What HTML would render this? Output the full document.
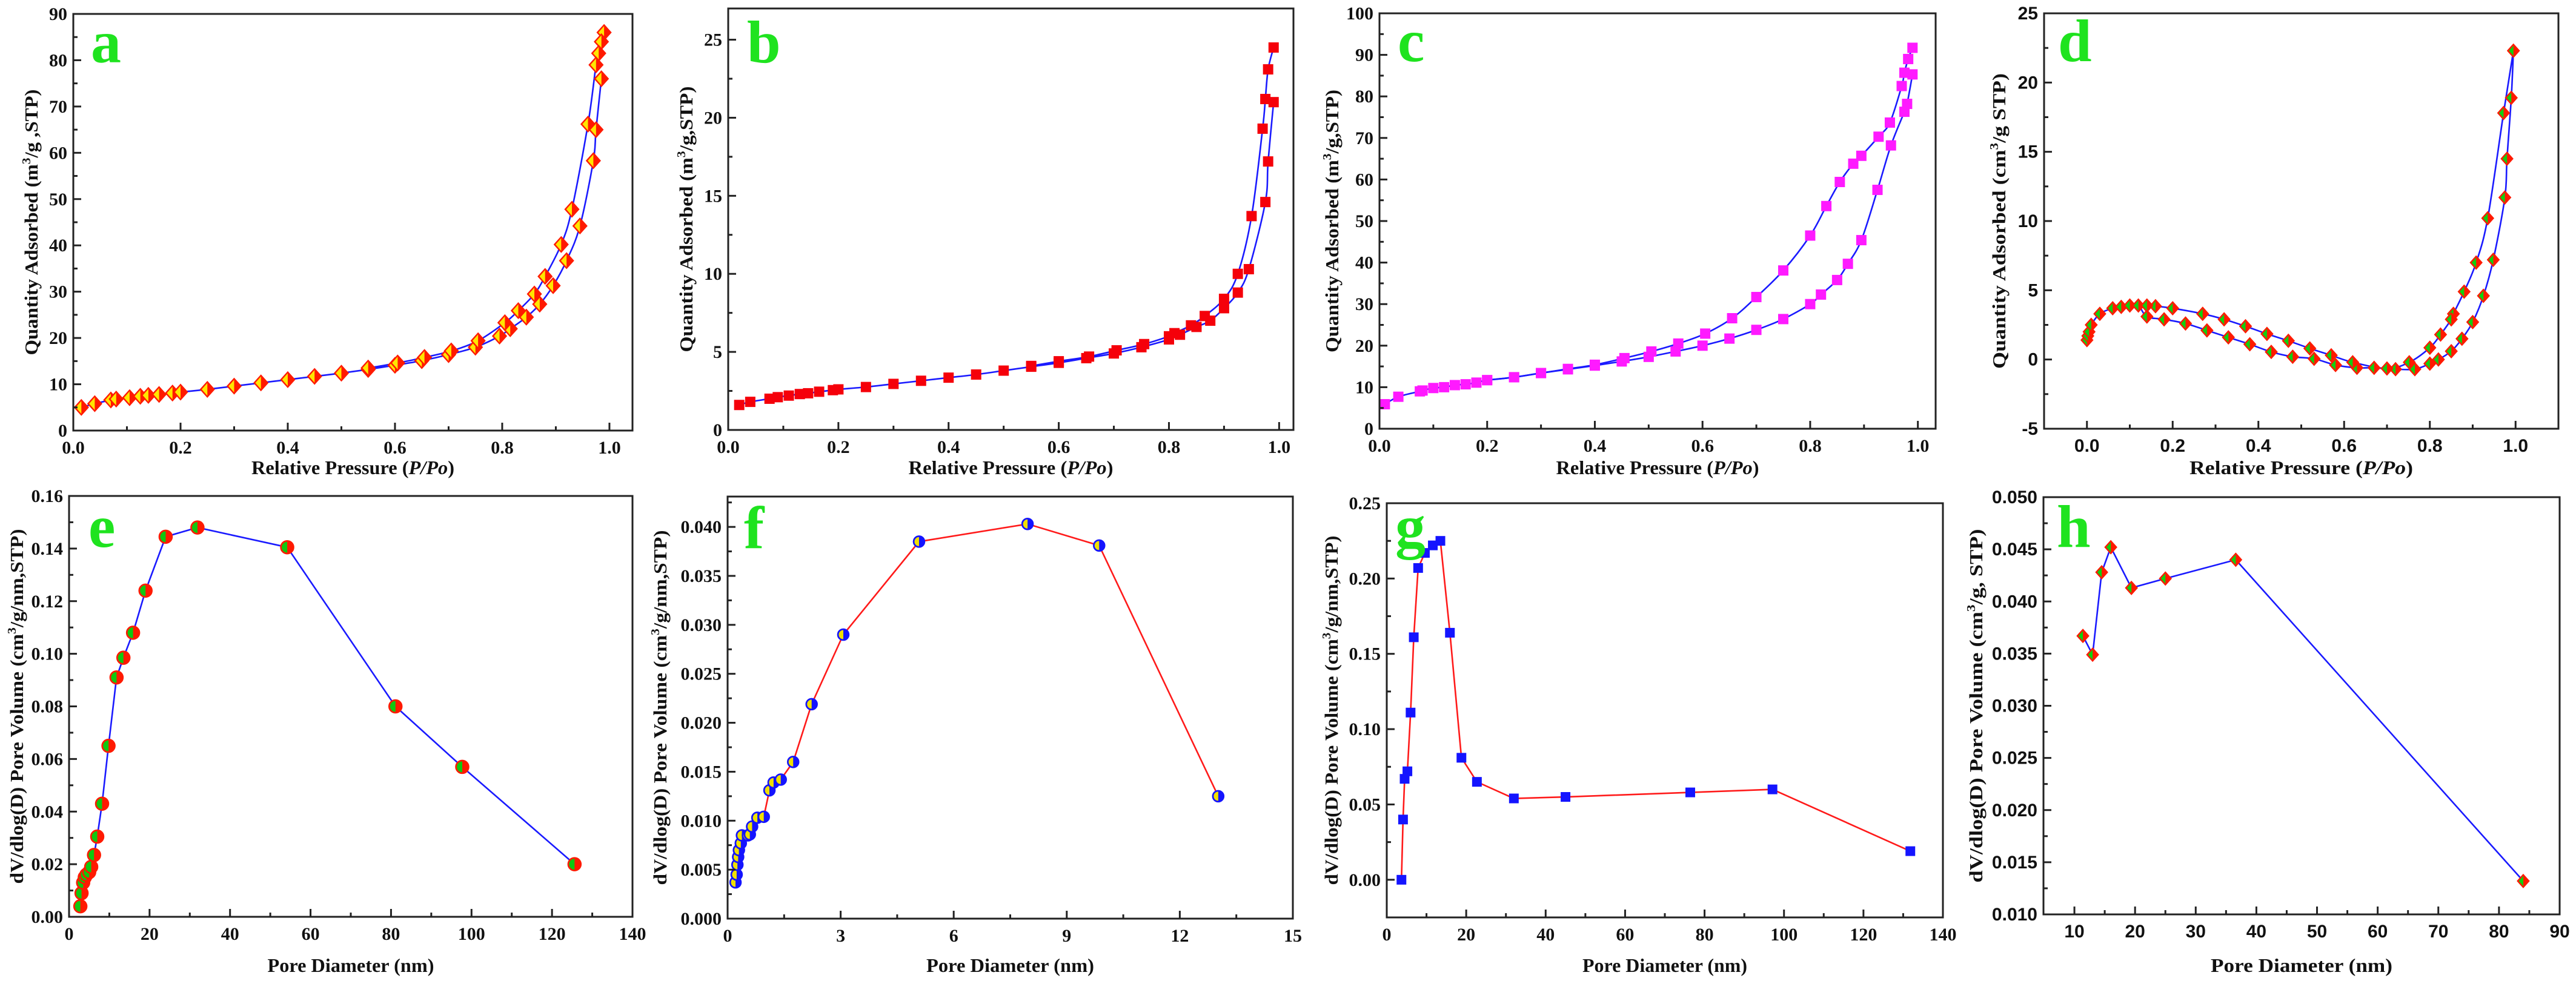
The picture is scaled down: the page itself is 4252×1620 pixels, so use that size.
<!DOCTYPE html>
<html><head><meta charset="utf-8">
<style>
html,body{margin:0;padding:0;background:#fff;}
svg{display:block;}
text{font-family:"Liberation Serif",serif;font-weight:bold;fill:#111;}
.sans{font-family:"Liberation Sans",sans-serif;}
</style></head>
<body>
<svg id="fig" width="4252" height="1620" viewBox="0 0 4252 1620" xmlns="http://www.w3.org/2000/svg"></svg>
<script>
// ---- panel a ----
const aAdsX=[0.015,0.04,0.07,0.08,0.105,0.125,0.14,0.16,0.185,0.2,0.25,0.3,0.35,0.4,0.45,0.5,0.55,0.6,0.65,0.7,0.75,0.795,0.815,0.845,0.87,0.895,0.92,0.945,0.97,0.975,0.985];
const aAdsY=[5,5.8,6.6,6.8,7.1,7.4,7.6,7.8,8.1,8.3,8.9,9.6,10.3,11,11.7,12.4,13.2,14.1,15.1,16.4,18,20.4,22,24.5,27.3,31.3,36.7,44.2,58.3,65,76];
const aDesX=[0.99,0.985,0.98,0.975,0.96,0.93,0.91,0.88,0.86,0.83,0.805,0.755,0.705,0.655,0.605,0.55];
const aDesY=[86,84,81.5,79,66.2,47.8,40.2,33.3,29.5,25.9,23.3,19.4,17.2,15.8,14.6,13.5];
// ---- panel b ----
const bAdsX=[0.02,0.04,0.075,0.09,0.11,0.13,0.145,0.165,0.19,0.2,0.25,0.3,0.35,0.4,0.45,0.5,0.55,0.6,0.65,0.7,0.75,0.8,0.82,0.85,0.875,0.9,0.925,0.945,0.975,0.98,0.99];
const bAdsY=[1.6,1.8,2.0,2.1,2.2,2.3,2.35,2.45,2.55,2.6,2.75,2.95,3.15,3.35,3.55,3.8,4.05,4.3,4.6,4.9,5.3,5.8,6.1,6.6,7.0,7.8,8.8,10.3,14.6,17.2,21.0];
const bDesX=[0.99,0.98,0.975,0.97,0.95,0.925,0.9,0.865,0.84,0.81,0.8,0.755,0.705,0.655,0.6,0.55];
const bDesY=[24.5,23.1,21.2,19.3,13.7,10,8.4,7.3,6.7,6.2,6.0,5.5,5.1,4.7,4.4,4.1];
// ---- panel c ----
const cAdsX=[0.01,0.035,0.075,0.08,0.1,0.12,0.14,0.16,0.18,0.2,0.25,0.3,0.35,0.4,0.45,0.5,0.55,0.6,0.65,0.7,0.75,0.8,0.82,0.85,0.87,0.895,0.925,0.95,0.975,0.98,0.99];
const cAdsY=[5.9,7.7,9.0,9.2,9.8,10,10.5,10.7,11.1,11.7,12.4,13.4,14.3,15.2,16.2,17.3,18.6,20,21.7,23.8,26.4,30,32.3,35.8,39.7,45.4,57.5,68.2,76.3,78.2,85.3];
const cDesX=[0.99,0.982,0.975,0.97,0.948,0.927,0.895,0.88,0.855,0.83,0.8,0.75,0.7,0.655,0.605,0.555,0.505,0.455,0.4,0.35,0.3,0.25,0.2];
const cDesY=[91.7,89,85.7,82.5,73.7,70.3,65.7,63.8,59.4,53.6,46.5,38.1,31.7,26.6,22.9,20.5,18.6,17,15.4,14.4,13.4,12.4,11.7];
// ---- panel d ----
const dAdsX=[0,0.002,0.005,0.01,0.03,0.06,0.08,0.1,0.12,0.14,0.18,0.23,0.28,0.33,0.38,0.43,0.48,0.53,0.58,0.63,0.67,0.72,0.765,0.8,0.82,0.85,0.875,0.9,0.925,0.948,0.975,0.98,0.99,0.995];
const dAdsY=[1.4,1.7,2.0,2.5,3.3,3.7,3.8,3.9,3.9,3.1,2.9,2.6,2.1,1.6,1.1,0.55,0.2,0.05,-0.4,-0.6,-0.6,-0.7,-0.7,-0.3,0.0,0.6,1.5,2.7,4.6,7.2,11.7,14.5,18.9,22.3];
const dDesX=[0.995,0.972,0.935,0.908,0.88,0.855,0.85,0.825,0.8,0.752,0.70,0.62,0.57,0.52,0.47,0.42,0.37,0.32,0.27,0.2,0.16,0.14];
const dDesY=[22.3,17.8,10.2,7.0,4.9,3.3,2.9,1.8,0.85,-0.2,-0.65,-0.2,0.3,0.8,1.35,1.85,2.4,2.9,3.3,3.7,3.85,3.9];
// ---- panel e ----
const eX=[2.8,3.1,3.5,3.9,4.3,5,5.5,6.2,7,8.2,9.8,11.8,13.5,15.9,19,24,31.9,54.2,81.1,97.7,125.6];
const eY=[0.004,0.009,0.013,0.015,0.016,0.017,0.019,0.0235,0.0305,0.043,0.065,0.091,0.0985,0.108,0.124,0.1445,0.148,0.1405,0.080,0.057,0.020];
// ---- panel f ----
const fX=[0.21,0.24,0.26,0.28,0.3,0.35,0.38,0.54,0.59,0.65,0.79,0.96,1.11,1.22,1.41,1.74,2.23,3.07,5.08,7.96,9.86,13.02];
const fY=[0.0037,0.0045,0.0055,0.0063,0.0070,0.0077,0.0085,0.0085,0.0086,0.0094,0.0103,0.0104,0.0131,0.0139,0.0142,0.016,0.0219,0.029,0.0385,0.0403,0.0381,0.0125];
// ---- panel g ----
const gX=[3.7,4.1,4.5,5.2,6,6.8,7.9,9.6,11.6,13.5,15.9,18.8,22.7,32,45,76.4,97.1,131.8];
const gY=[0.0,0.040,0.067,0.072,0.111,0.161,0.207,0.217,0.222,0.225,0.164,0.081,0.065,0.054,0.055,0.058,0.060,0.019];
// ---- panel h ----
const hX=[11.4,13,14.5,16,19.4,25,36.6,84];
const hY=[0.0367,0.0349,0.0428,0.0452,0.0413,0.0422,0.0440,0.0132];
// ---- tick labels ----
const ticksPP=["0.0","0.2","0.4","0.6","0.8","1.0"];
const ticksA=["0","10","20","30","40","50","60","70","80","90"];
const ticksB=["0","5","10","15","20","25"];
const ticksC=["0","10","20","30","40","50","60","70","80","90","100"];
const ticksD=["-5","0","5","10","15","20","25"];
const ticksEx=["0","20","40","60","80","100","120","140"];
const ticksEy=["0.00","0.02","0.04","0.06","0.08","0.10","0.12","0.14","0.16"];
const ticksFx=["0","3","6","9","12","15"];
const ticksFy=["0.000","0.005","0.010","0.015","0.020","0.025","0.030","0.035","0.040"];
const ticksGy=["0.00","0.05","0.10","0.15","0.20","0.25"];
const ticksHx=["10","20","30","40","50","60","70","80","90"];
const ticksHy=["0.010","0.015","0.020","0.025","0.030","0.035","0.040","0.045","0.050"];

const NS="http://www.w3.org/2000/svg";
const fig=document.getElementById('fig');
function mk(tag,attrs,parent){const e=document.createElementNS(NS,tag);for(const k in attrs)e.setAttribute(k,attrs[k]);(parent||fig).appendChild(e);return e;}

function smoothPath(pts){
  if(pts.length<2)return '';
  let d='M'+pts[0][0]+','+pts[0][1];
  for(let i=0;i<pts.length-1;i++){
    const p0=pts[Math.max(i-1,0)],p1=pts[i],p2=pts[i+1],p3=pts[Math.min(i+2,pts.length-1)];
    const c1=[p1[0]+(p2[0]-p0[0])/6,p1[1]+(p2[1]-p0[1])/6];
    const c2=[p2[0]-(p3[0]-p1[0])/6,p2[1]-(p3[1]-p1[1])/6];
    d+=' C'+c1[0]+','+c1[1]+' '+c2[0]+','+c2[1]+' '+p2[0]+','+p2[1];
  }
  return d;
}

function marker(g,type,x,y,s,cL,cR){
  let full,left;
  if(type==='diamond'){
    const w=s*0.9,h=s;
    full=`${x},${y-h/2} ${x+w/2},${y} ${x},${y+h/2} ${x-w/2},${y}`;
    left=`${x},${y-h/2+2} ${x},${y+h/2-2} ${x-w/2+2},${y}`;
    const p=mk('polygon',{points:full,fill:cR,stroke:cR,'stroke-width':2},g);
    
    
    mk('polygon',{points:left,fill:cL},g);
  }else if(type==='circle'){
    const p=mk('circle',{cx:x,cy:y,r:s/2,fill:cR,stroke:cR,'stroke-width':1.5},g);
    
    
    mk('path',{d:`M${x},${y-s/2+2} A${s/2-2},${s/2-2} 0 0 0 ${x},${y+s/2-2} Z`,fill:cL},g);
  }else{
    const p=mk('rect',{x:x-s/2,y:y-s/2,width:s,height:s,fill:cR},g);
    
    
  }
}

function panel(c){
  const g=mk('g',{});
  
  
  const sx=v=>c.L+(v-c.x0)/(c.x1-c.x0)*(c.R-c.L);
  const sy=v=>c.B-(v-c.y0)/(c.y1-c.y0)*(c.B-c.T);
  const fcls=c.sans?'sans':'';
  // series lines
  c.series.forEach((s,si)=>{
    const pts=s.x.map((v,i)=>[sx(v),sy(s.y[i])]);
    const d=c.smooth?smoothPath(pts):'M'+pts.map(p=>p[0]+','+p[1]).join(' L');
    const ln=mk('path',{d:d,fill:'none',stroke:c.lineColor,'stroke-width':2.6},g);
    
    
  });
  c.series.forEach(s=>{
    s.x.forEach((v,i)=>marker(g,c.mType,sx(v),sy(s.y[i]),c.mSize,c.mL,c.mR));
  });
  // frame
  const fr=mk('rect',{x:c.L,y:c.T,width:c.R-c.L,height:c.B-c.T,fill:'none',stroke:'#222','stroke-width':3},g);
  
  
  // x ticks
  const xt=c.xt;
  xt.forEach((lab,i)=>{
    const v=parseFloat(lab),X=sx(v);
    mk('line',{x1:X,y1:c.B,x2:X,y2:c.B-13,stroke:'#222','stroke-width':3},g);
    const t=mk('text',{x:X,y:c.B+38,'text-anchor':'middle','font-size':30,class:fcls},g);
    t.textContent=lab;
    
    
    if(i<xt.length-1){const m=sx(v+c.xstep/2);if(m<c.R-2)mk('line',{x1:m,y1:c.B,x2:m,y2:c.B-7,stroke:'#222','stroke-width':3},g);}
  });
  if(c.xminorBefore){const m=sx(parseFloat(xt[0])-c.xstep/2);if(m>c.L+2)mk('line',{x1:m,y1:c.B,x2:m,y2:c.B-7,stroke:'#222','stroke-width':3},g);}
  const yt=c.yt;
  yt.forEach((lab,i)=>{
    const v=parseFloat(lab),Y=sy(v);
    mk('line',{x1:c.L,y1:Y,x2:c.L+13,y2:Y,stroke:'#222','stroke-width':3},g);
    const t=mk('text',{x:c.L-10,y:Y+10,'text-anchor':'end','font-size':30,class:fcls},g);
    t.textContent=lab;
    
    
    const m=sy(v+c.ystep/2);
    if(m>c.T+2)mk('line',{x1:c.L,y1:m,x2:c.L+7,y2:m,stroke:'#222','stroke-width':3},g);
    if(i===0){const m2=sy(v-c.ystep/2);if(m2<c.B-2)mk('line',{x1:c.L,y1:m2,x2:c.L+7,y2:m2,stroke:'#222','stroke-width':3},g);}
  });
  // x title
  const xtit=mk('text',{x:(c.L+c.R)/2,y:c.xTitleY,'text-anchor':'middle','font-size':32,textLength:c.xTitleW,lengthAdjust:'spacingAndGlyphs'},g);
  
  
  if(c.pp){
    xtit.appendChild(document.createTextNode('Relative Pressure ('));
    const it=mk('tspan',{'font-style':'italic'},xtit);it.textContent='P/Po';
    xtit.appendChild(document.createTextNode(')'));
  }else xtit.textContent='Pore Diameter (nm)';
  // y title
  const cy=(c.T+c.B)/2;
  const ytit=mk('text',{x:0,y:0,transform:`translate(${c.yTitleX},${cy}) rotate(-90)`,'text-anchor':'middle','font-size':31,textLength:c.yTitleW,lengthAdjust:'spacingAndGlyphs'},g);
  
  
  ytit.appendChild(document.createTextNode(c.yPre));
  const sup=mk('tspan',{'font-size':20,dy:-12},ytit);sup.textContent='3';
  const rest=mk('tspan',{dy:12},ytit);rest.textContent=c.yPost;
  // letter
  const lt=mk('text',{x:c.letX,y:c.letY,'font-size':100,style:'fill:#1fe31f'},g);
  lt.textContent=c.id;
  
  
}

const ppCommon={x0:0,xt:ticksPP,xstep:0.2,smooth:true,pp:true,lineColor:'#1a1aff'};
panel(Object.assign({},ppCommon,{id:'a',L:121,R:1044,T:23,B:711,x1:1.043,y0:0,y1:90,yt:ticksA,ystep:10,
  series:[{x:aAdsX,y:aAdsY},{x:aDesX,y:aDesY}],mType:'diamond',mSize:25,mL:'#ffe600',mR:'#ff1a00',
  xTitleY:783,xTitleW:335,yTitleX:62,yTitleW:439,yPre:'Quantity Adsorbed (m',yPost:'/g ,STP)',letX:150,letY:103}));
panel(Object.assign({},ppCommon,{id:'b',L:1202,R:2135,T:14,B:710,x1:1.026,y0:0,y1:27,yt:ticksB,ystep:5,
  series:[{x:bAdsX,y:bAdsY},{x:bDesX,y:bDesY}],mType:'square',mSize:17,mL:'#f00',mR:'#f5000a',
  xTitleY:783,xTitleW:338,yTitleX:1143,yTitleW:439,yPre:'Quantity Adsorbed (m',yPost:'/g,STP)',letX:1233,letY:103}));
panel(Object.assign({},ppCommon,{id:'c',L:2277,R:3195,T:22,B:708,x1:1.033,y0:0,y1:100,yt:ticksC,ystep:10,
  series:[{x:cAdsX,y:cAdsY},{x:cDesX,y:cDesY}],mType:'square',mSize:17,mL:'#ff1aff',mR:'#ff1aff',
  xTitleY:783,xTitleW:335,yTitleX:2209,yTitleW:434,yPre:'Quantity Adsorbed (m',yPost:'/g,STP)',letX:2307,letY:101}));
panel(Object.assign({},ppCommon,{id:'d',L:3374,R:4223,T:22,B:708,x0:-0.1,x1:1.1,y0:-5,y1:25,yt:ticksD,ystep:5,sans:true,xminorBefore:true,
  series:[{x:dAdsX,y:dAdsY},{x:dDesX,y:dDesY}],mType:'diamond',mSize:21,mL:'#10d010',mR:'#ff1a00',
  xTitleY:783,xTitleW:369,yTitleX:3310,yTitleW:488,yPre:'Quantity Adsorbed (cm',yPost:'/g STP)',letX:3397,letY:101}));
const pdCommon={smooth:false,pp:false};
panel(Object.assign({},pdCommon,{id:'e',L:114,R:1044,T:819,B:1514,x0:0,x1:140,xt:ticksEx,xstep:20,y0:0,y1:0.16,yt:ticksEy,ystep:0.02,
  series:[{x:eX,y:eY}],lineColor:'#1a1aff',mType:'circle',mSize:22,mL:'#10c810',mR:'#ff1a00',
  xTitleY:1605,xTitleW:275,yTitleX:38,yTitleW:586,yPre:'dV/dlog(D) Pore Volume (cm',yPost:'/g/nm,STP)',letX:146,letY:903}));
panel(Object.assign({},pdCommon,{id:'f',L:1201,R:2134,T:820,B:1517,x0:0,x1:15,xt:ticksFx,xstep:3,y0:0,y1:0.0431,yt:ticksFy,ystep:0.005,
  series:[{x:fX,y:fY}],lineColor:'#ff1a1a',mType:'circle',mSize:19,mL:'#f0e000',mR:'#1414ff',
  xTitleY:1605,xTitleW:277,yTitleX:1100,yTitleW:586,yPre:'dV/dlog(D) Pore Volume (cm',yPost:'/g/nm,STP)',letX:1228,letY:905}));
panel(Object.assign({},pdCommon,{id:'g',L:2289,R:3207,T:831,B:1515,x0:0,x1:140,xt:ticksEx,xstep:20,y0:-0.025,y1:0.25,yt:ticksGy,ystep:0.05,
  series:[{x:gX,y:gY}],lineColor:'#ff1a1a',mType:'square',mSize:16,mL:'#1414ff',mR:'#1414ff',
  xTitleY:1605,xTitleW:272,yTitleX:2208,yTitleW:577,yPre:'dV/dlog(D) Pore Volume (cm',yPost:'/g/nm,STP)',letX:2303,letY:903}));
panel(Object.assign({},pdCommon,{id:'h',L:3373,R:4225,T:821,B:1510,x0:4.9,x1:90,xt:ticksHx,xstep:10,y0:0.010,y1:0.050,yt:ticksHy,ystep:0.005,sans:true,xminorBefore:true,
  series:[{x:hX,y:hY}],lineColor:'#1a1aff',mType:'diamond',mSize:21,mL:'#10d010',mR:'#ff1a00',
  xTitleY:1605,xTitleW:300,yTitleX:3272,yTitleW:584,yPre:'dV/dlog(D) Pore Volume (cm',yPost:'/g, STP)',letX:3395,letY:903}));
</script>
</body></html>
